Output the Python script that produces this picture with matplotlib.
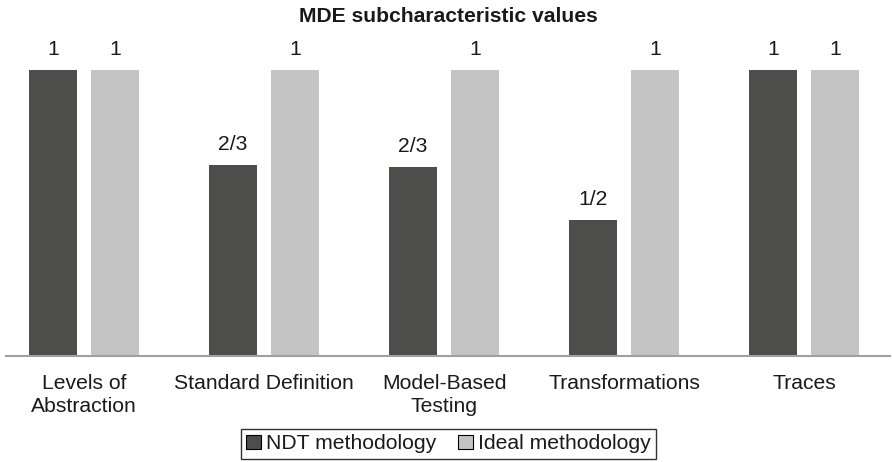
import matplotlib
matplotlib.use("Agg")
import matplotlib.pyplot as plt
import numpy as np

plt.rcParams['font.family'] = ['Liberation Sans', 'DejaVu Sans']

categories = ["Levels of\nAbstraction", "Standard Definition", "Model-Based\nTesting",
              "Transformations", "Traces"]
ndt_values = [1.0, 0.667, 0.661, 0.475, 1.0]
ideal_values = [1.0, 1.0, 1.0, 1.0, 1.0]
ndt_labels = ["1", "2/3", "2/3", "1/2", "1"]
ideal_labels = ["1", "1", "1", "1", "1"]
series_names = ["NDT methodology", "Ideal methodology"]
title = "MDE subcharacteristic values"

dark = "#4d4d4b"
light = "#c3c4c3"
txt = "#1a1a1a"
FS = 15.2

W, H = 892, 462
fig = plt.figure(figsize=(W / 100, H / 100), dpi=100)
ax_left, ax_right = 6, 890
ax_base, ax_top = 355.5, 70
ax = fig.add_axes([ax_left / W, (H - ax_base) / H, (ax_right - ax_left) / W, (ax_base - ax_top) / H])

x = np.arange(len(categories))
bw = 48 / 180
off = 31 / 180
b1 = ax.bar(x - off, ndt_values, bw, color=dark, label=series_names[0])
b2 = ax.bar(x + off, ideal_values, bw, color=light, label=series_names[1])

for bars, labs in ((b1, ndt_labels), (b2, ideal_labels)):
    for rect, lab in zip(bars, labs):
        ax.annotate(lab, (rect.get_x() + rect.get_width() / 2, rect.get_height()),
                    xytext=(0, 8), textcoords="offset points", ha="center", va="bottom",
                    fontsize=FS, color=txt, annotation_clip=False)

ax.set_xlim(-(84 - ax_left) / 180, 4 + (ax_right - 804) / 180)
ax.set_ylim(0, 1)
for s in ["top", "right", "left"]:
    ax.spines[s].set_visible(False)
ax.spines["bottom"].set_color("#a0a0a0")
ax.spines["bottom"].set_linewidth(1.5)
ax.set_yticks([])
ax.set_xticks(x)
ax.set_xticklabels(categories, fontsize=FS, color=txt, linespacing=1.3)
ax.tick_params(axis="x", length=0, pad=13)

fig.text(448 / W, 1 - 17 / H, title, ha="center", va="center", fontsize=FS,
         fontweight="bold", color=txt)

leg = fig.legend(handles=[b1, b2], labels=series_names, loc="upper center",
                 bbox_to_anchor=(448.5 / W, (H - 429) / H), ncol=2, frameon=True,
                 fancybox=False, edgecolor="black", fontsize=FS,
                 handlelength=0.7, handleheight=0.7, handletextpad=0.25,
                 columnspacing=1.0, borderpad=0.25, borderaxespad=0)
leg.get_frame().set_linewidth(1.0)
for h in leg.legend_handles:
    h.set_edgecolor("black")
    h.set_linewidth(0.8)
for t in leg.get_texts():
    t.set_color(txt)

fig.savefig("out.png", dpi=100)
